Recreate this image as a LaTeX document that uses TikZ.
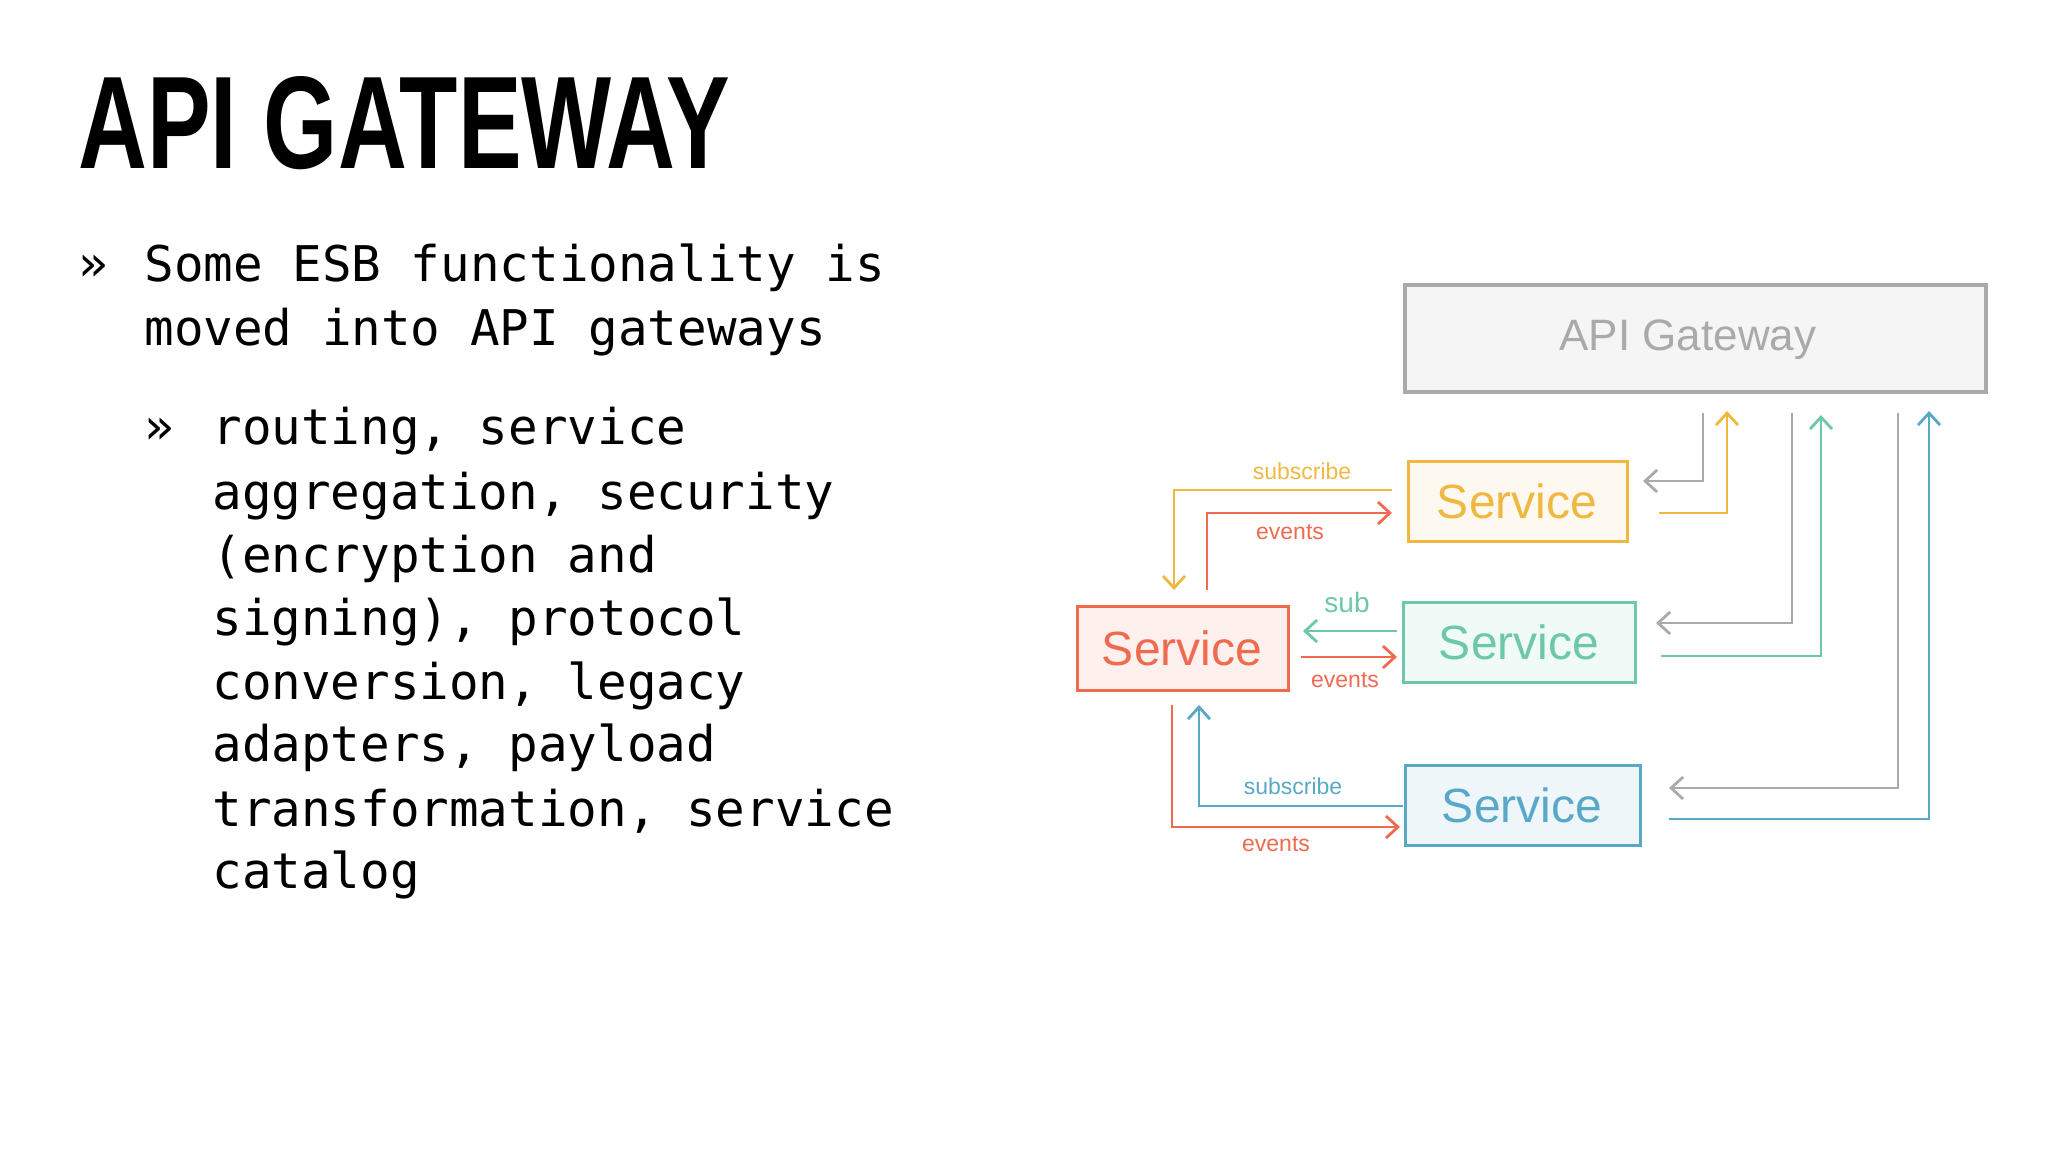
\documentclass[tikz,border=0pt]{standalone}
\usepackage{fontspec}
\setmainfont{Liberation Sans}
\newfontfamily\monof{DejaVu Sans Mono}
\newfontfamily\handf{Liberation Sans}
\usetikzlibrary{arrows.meta}
\definecolor{cy}{HTML}{F0B840}
\definecolor{cr}{HTML}{F06A50}
\definecolor{cg}{HTML}{6CC8A8}
\definecolor{cb}{HTML}{5AA8C8}
\definecolor{cgr}{HTML}{AAAAAA}
\begin{document}
\begin{tikzpicture}[x=0.5pt,y=-0.5pt,
  body/.style={anchor=west,inner sep=0pt,font=\monof\fontsize{24.6pt}{28pt}\selectfont},
  svc/.style={inner sep=0pt,font=\handf\fontsize{24pt}{28pt}\selectfont,text=#1},
  lnk/.style={draw=#1,line width=1.4pt,-{Straight Barb[length=6pt,width=11pt,line width=1.4pt]}},
  lab/.style={font=\handf\fontsize{11.5pt}{12pt}\selectfont,text=#1,inner sep=0pt}]
\useasboundingbox[fill=white] (0,0) rectangle (2048,1152);
% title
\node[anchor=south west,inner sep=0pt] (title) at (78,170) {\resizebox{326pt}{46pt}{\bfseries API GATEWAY}};
% body
\node[body] (b1) at (78,268) {»};
\node[body] (t1) at (144,268) {Some ESB functionality is};
\node[body] (t2) at (144,332) {moved into API gateways};
\node[body] (b2) at (144,431) {»};
\node[body] (s1) at (212,431) {routing, service};
\node[body] (s2) at (212,496) {aggregation, security};
\node[body] (s3) at (212,559) {(encryption and};
\node[body] (s4) at (212,622) {signing), protocol};
\node[body] (s5) at (212,686) {conversion, legacy};
\node[body] (s6) at (212,748) {adapters, payload};
\node[body] (s7) at (212,811) {transformation, service};
\node[body] (s8) at (212,875) {catalog};
% diagram boxes
\draw[draw=cgr,fill=black!4,line width=2pt] (1405,285) rectangle (1986,392);
\node[font=\handf\fontsize{22pt}{26pt}\selectfont,text=cgr] (gw) at (1688,340) {API Gateway};
\draw[draw=cy,fill=cy!8,line width=1.5pt] (1408,461) rectangle (1627,541);
\node[svc=cy] (sy) at (1517,501) {Service};
\draw[draw=cr,fill=cr!10,line width=1.5pt] (1077,606) rectangle (1288,690);
\node[svc=cr] (sr) at (1182,648) {Service};
\draw[draw=cg,fill=cg!10,line width=1.5pt] (1403,602) rectangle (1635,682);
\node[svc=cg] (sg) at (1519,642) {Service};
\draw[draw=cb,fill=cb!10,line width=1.5pt] (1405,765) rectangle (1640,845);
\node[svc=cb] (sb) at (1522,805) {Service};
% gateway links
\draw[lnk=cgr] (1703,413) -- (1703,481) -- (1643,481);
\draw[lnk=cy] (1659,513) -- (1727,513) -- (1727,411);
\draw[lnk=cgr] (1792,413) -- (1792,623) -- (1656,623);
\draw[lnk=cg] (1661,656) -- (1821,656) -- (1821,415);
\draw[lnk=cgr] (1898,413) -- (1898,788) -- (1669,788);
\draw[lnk=cb] (1669,819) -- (1929,819) -- (1929,411);
% service links
\draw[lnk=cy] (1392,490) -- (1174,490) -- (1174,590);
\draw[lnk=cr] (1207,590) -- (1207,513) -- (1392,513);
\draw[lnk=cg] (1397,631) -- (1303,631);
\draw[lnk=cr] (1301,657) -- (1397,657);
\draw[lnk=cb] (1403,806) -- (1199,806) -- (1199,705);
\draw[lnk=cr] (1172,705) -- (1172,827) -- (1400,827);
% labels
\node[lab=cy] (l1) at (1302,471) {subscribe};
\node[lab=cr] (l2) at (1290,532) {events};
\node[lab=cg,font=\handf\fontsize{14pt}{16pt}\selectfont] (l3) at (1347,602) {sub};
\node[lab=cr] (l4) at (1345,680) {events};
\node[lab=cb] (l5) at (1293,786) {subscribe};
\node[lab=cr] (l6) at (1276,844) {events};
\end{tikzpicture}
\end{document}
